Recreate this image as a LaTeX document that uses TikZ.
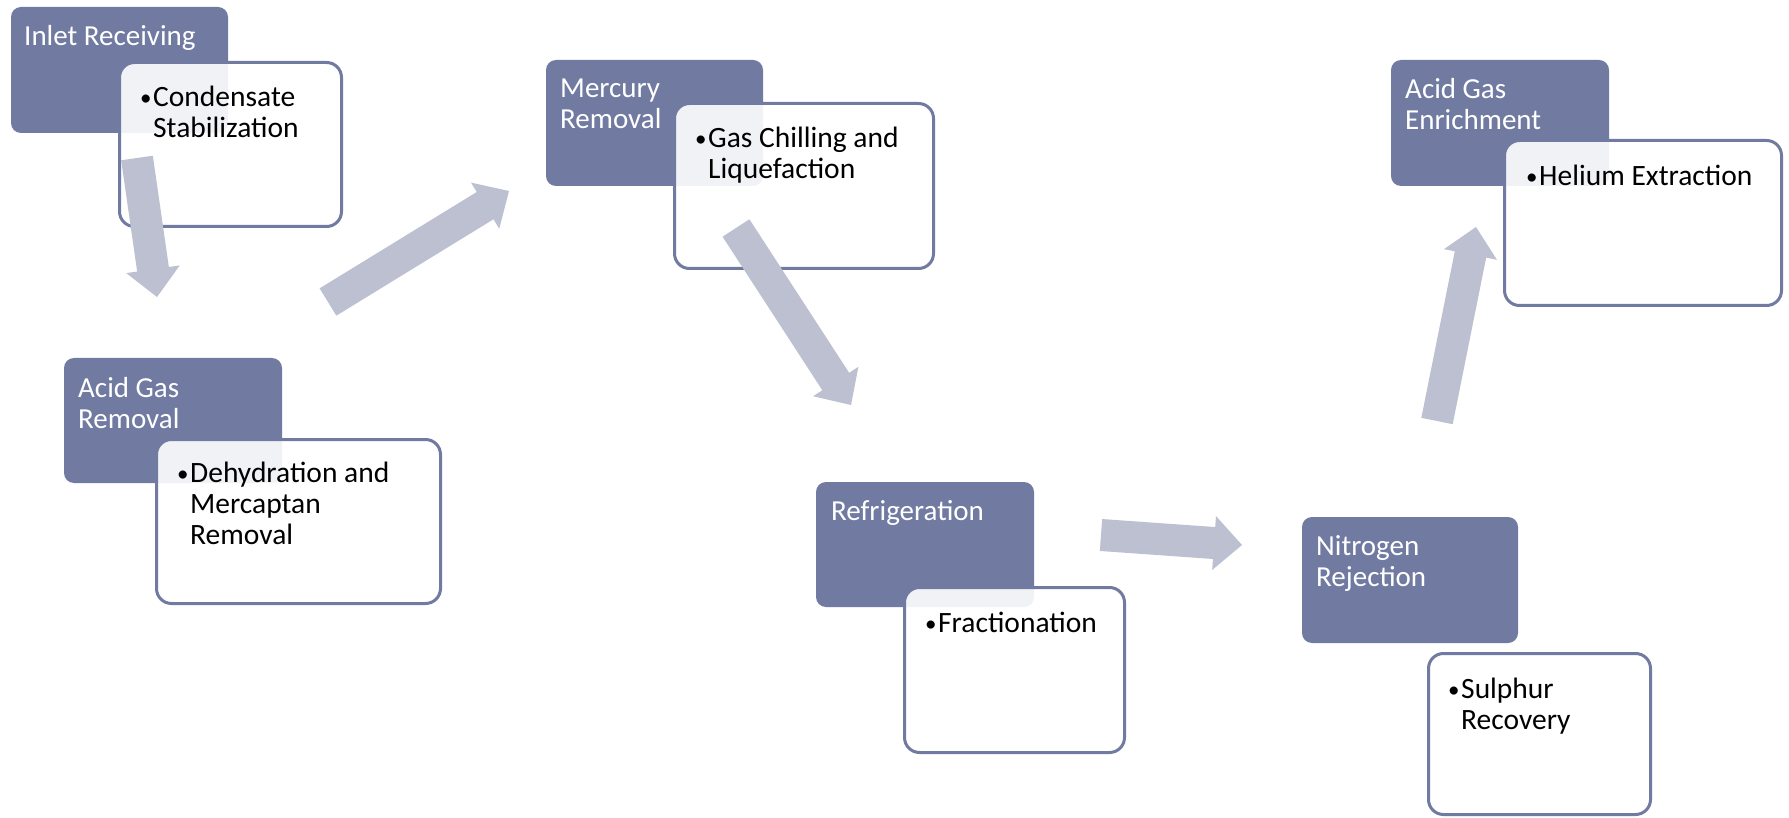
\documentclass[tikz,border=0pt]{standalone}
\usepackage{fontspec}
\setmainfont{Carlito}
\usetikzlibrary{calc}
\definecolor{darkbox}{RGB}{113,123,162}
\definecolor{arrowfill}{RGB}{188,192,208}
\newcommand\itembul{\makebox[13pt][l]{\raisebox{1pt}{\fontsize{23}{23}\selectfont•}}}
\tikzset{
  darkstep/.style={draw=none, fill=darkbox, rounded corners=10pt, anchor=north west, inner sep=0pt, outer sep=0pt},
  whitestep/.style={draw=darkbox, line width=3pt, fill=white, fill opacity=0.9, draw opacity=1, rounded corners=15pt, anchor=north west, inner sep=0pt, outer sep=0pt},
  ttl/.style={anchor=base west, inner sep=0pt, text=white, font=\fontsize{29}{31}\selectfont},
  itm/.style={anchor=base west, inner sep=0pt, text=black, font=\fontsize{29.5}{31}\selectfont},
}
\newcommand\blkarrow[2]{%
  \coordinate (hb) at ($(#2)!28pt!(#1)$);
  \fill[arrowfill] ($(#1)!16pt!90:(#2)$) -- ($(hb)!16pt!-90:(#1)$) -- ($(hb)!27pt!-90:(#1)$)
    -- (#2) -- ($(hb)!27pt!90:(#1)$) -- ($(hb)!16pt!90:(#1)$) -- ($(#1)!16pt!-90:(#2)$) -- cycle;
}
\begin{document}
\begin{tikzpicture}[x=1pt, y=-1pt]
\useasboundingbox (0,0) rectangle (1789,818);
\fill[white] (0,0) rectangle (1789,818);

% dark title boxes
\node[darkstep, minimum width=217pt, minimum height=126pt] (ir)  at (11,7) {};
\node[darkstep, minimum width=218pt, minimum height=125pt] (agr) at (64,358) {};
\node[darkstep, minimum width=217pt, minimum height=126pt] (mr)  at (546,60) {};
\node[darkstep, minimum width=218pt, minimum height=125pt] (rf)  at (816,482) {};
\node[darkstep, minimum width=216pt, minimum height=126pt] (nr)  at (1302,517) {};
\node[darkstep, minimum width=218pt, minimum height=126pt] (age) at (1391,60) {};

% white detail boxes
\node[whitestep, minimum width=222pt, minimum height=164pt] (cs) at (119.5,62.5) {};
\node[whitestep, minimum width=284pt, minimum height=164pt] (dm) at (156.5,439.5) {};
\node[whitestep, minimum width=259pt, minimum height=165pt] (gc) at (674.5,103.5) {};
\node[whitestep, minimum width=220pt, minimum height=165pt] (fr) at (904.5,587.5) {};
\node[whitestep, minimum width=222pt, minimum height=161pt] (sr) at (1428.5,653.5) {};
\node[whitestep, minimum width=277pt, minimum height=165pt] (he) at (1504.5,140.5) {};

% titles
\node[ttl] (tir)  at (24,46) {Inlet Receiving};
\node[ttl] (tagr) at (78,397) {\begin{tabular}[t]{@{}l@{}}Acid Gas\\Removal\end{tabular}};
\node[ttl] (tmr)  at (560,98) {\begin{tabular}[t]{@{}l@{}}Mercury\\Removal\end{tabular}};
\node[ttl] (trf)  at (831,520) {Refrigeration};
\node[ttl] (tnr)  at (1316,555) {\begin{tabular}[t]{@{}l@{}}Nitrogen\\Rejection\end{tabular}};
\node[ttl] (tage) at (1405,99) {\begin{tabular}[t]{@{}l@{}}Acid Gas\\Enrichment\end{tabular}};

% items
\node[itm] (ics) at (140,107) {\begin{tabular}[t]{@{}l@{}l@{}}\itembul&Condensate\\&Stabilization\end{tabular}};
\node[itm] (idm) at (177,482) {\begin{tabular}[t]{@{}l@{}l@{}}\itembul&Dehydration and\\&Mercaptan\\&Removal\end{tabular}};
\node[itm] (igc) at (695,148) {\begin{tabular}[t]{@{}l@{}l@{}}\itembul&Gas Chilling and\\&Liquefaction\end{tabular}};
\node[itm] (ifr) at (925,632) {\begin{tabular}[t]{@{}l@{}l@{}}\itembul&Fractionation\end{tabular}};
\node[itm] (isr) at (1448,698) {\begin{tabular}[t]{@{}l@{}l@{}}\itembul&Sulphur\\&Recovery\end{tabular}};
\node[itm] (ihe) at (1526,186) {\begin{tabular}[t]{@{}l@{}l@{}}\itembul&Helium Extraction\end{tabular}};

% arrow end points
\coordinate (a1s) at (137,158);  \coordinate (a1e) at (157,297);
\coordinate (a2s) at (328,302);  \coordinate (a2e) at (509,191);
\coordinate (a3s) at (736,228);  \coordinate (a3e) at (851,405);
\coordinate (a4s) at (1101,535); \coordinate (a4e) at (1242,545);
\coordinate (a5s) at (1437,421); \coordinate (a5e) at (1476,227);

\blkarrow{a1s}{a1e}
\blkarrow{a2s}{a2e}
\blkarrow{a3s}{a3e}
\blkarrow{a4s}{a4e}
\blkarrow{a5s}{a5e}
\end{tikzpicture}
\end{document}
